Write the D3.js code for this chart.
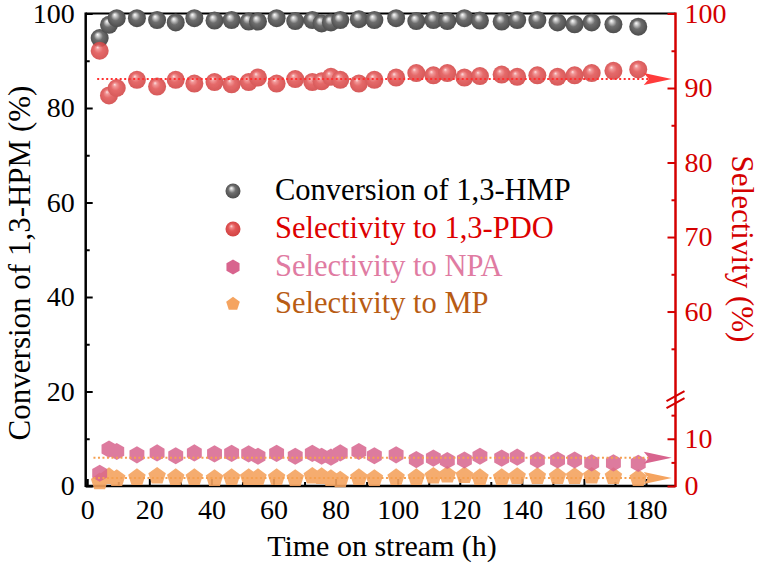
<!DOCTYPE html>
<html><head><meta charset="utf-8">
<script src="https://cdn.jsdelivr.net/npm/d3@7"></script>
<style>
body{margin:0;background:#fff}
svg{display:block}
text{font-family:"Liberation Serif","Times New Roman",serif}
</style>
</head><body>
<svg id="c" width="761" height="568"></svg>
<script>
// ---------- data ----------
const times = [4, 7, 9.5, 16, 22.5, 28.5, 34.5, 41, 46.5, 52, 55, 61, 67, 72.5, 75.5, 78.5, 81.5, 87.5, 92.5, 99.5,
  106, 111.5, 116, 121.5, 126.5, 133.5, 138.5, 145, 151.5, 157, 162.5, 169.5, 177.5];
const conversion = [94.8, 97.6, 99.0, 99.0, 98.6, 98.1, 99.0, 98.5, 98.6, 98.3, 98.3, 99.0, 98.4, 98.6, 97.9, 98.1, 98.6, 98.8, 98.6, 99.0,
  98.4, 98.6, 98.4, 99.0, 98.5, 98.3, 98.6, 98.6, 98.1, 97.7, 98.1, 97.7, 97.2];
const selPDO = [95.0, 89.0, 90.0, 91.1, 90.2, 91.1, 90.6, 90.8, 90.5, 90.8, 91.4, 90.6, 91.2, 90.8, 90.9, 91.5, 91.1, 90.6, 91.1, 91.4,
  92.0, 91.7, 92.0, 91.4, 91.6, 91.8, 91.5, 91.7, 91.5, 91.7, 92.0, 92.3, 92.5];
const selNPA = [2.7, 7.8, 7.3, 6.6, 7.0, 6.4, 7.0, 6.8, 6.9, 6.8, 6.3, 6.9, 6.3, 6.9, 6.3, 6.1, 7.0, 7.3, 6.4, 6.6,
  5.6, 5.9, 5.4, 5.5, 6.3, 5.9, 6.1, 5.5, 5.5, 5.5, 4.9, 4.9, 4.8];
const selMP = [0.9, 2.0, 1.6, 1.8, 2.1, 1.8, 1.8, 1.6, 1.8, 1.8, 1.8, 1.8, 1.6, 2.1, 2.0, 1.6, 1.3, 1.8, 1.6, 1.8,
  1.8, 2.1, 2.3, 2.2, 1.8, 1.8, 2.0, 2.0, 2.0, 2.0, 2.1, 2.0, 1.6];
const trendPDO = 91.2, trendNPA = 6.0, trendMP = 1.7;
const trendStart = [3.2, 2.0, 2.0];
const trendEnd = 188.3;

const xTicks = [0, 20, 40, 60, 80, 100, 120, 140, 160, 180];
const xMinor = [10, 30, 50, 70, 90, 110, 130, 150, 170];
const leftTicks = [0, 20, 40, 60, 80, 100];
const leftMinor = [10, 30, 50, 70, 90];
const rightUpperTicks = [60, 70, 80, 90, 100];
const rightUpperMinor = [55, 65, 75, 85, 95];
const rightLowerTicks = [0, 10];
const rightLowerMinor = [5, 15];
const legendLabels = ["Conversion of 1,3-HMP", "Selectivity to 1,3-PDO", "Selectivity to NPA", "Selectivity to MP"];
const xTitle = "Time on stream (h)";
const yTitleLeft = "Conversion of 1,3-HPM (%)";
const yTitleRight = "Selectivity (%)";

// ---------- setup ----------
const svg = d3.select("#c");
const L = 85.7, R = 675.5, T = 13.5, B = 486;
const x = d3.scaleLinear([-0.5, 189.5], [L, R]);
const yL = d3.scaleLinear([0, 100], [B, T]);
const yRU = d3.scaleLinear([49, 100], [393.5, T]);
const yRL = d3.scaleLinear([0, 17], [B, 405.7]);
const RED = "#d40000";

const defs = svg.append("defs");
function sphereGrad(id, stops) {
  const g = defs.append("radialGradient").attr("id", id)
    .attr("cx", "50%").attr("cy", "50%").attr("r", "55%").attr("fx", "38%").attr("fy", "30%");
  stops.forEach(s => g.append("stop").attr("offset", s[0]).attr("stop-color", s[1]));
}
sphereGrad("gGray", [["0%", "#ffffff"], ["18%", "#c8c8c8"], ["45%", "#6e6e6e"], ["100%", "#484848"]]);
sphereGrad("gRed", [["0%", "#ffe0e0"], ["18%", "#f08a8a"], ["45%", "#e25656"], ["100%", "#cf4040"]]);

function polyPath(r, n) {
  return d3.range(n).map(k => {
    const a = -Math.PI / 2 + k * 2 * Math.PI / n;
    return [r * Math.cos(a), r * Math.sin(a)];
  });
}
const hexPts = polyPath(8.6, 6), pentPts = polyPath(9.2, 5);
const ptsStr = (p, s) => p.map(d => (d[0] * s).toFixed(2) + "," + (d[1] * s).toFixed(2)).join(" ");

// ---------- frame ----------
svg.append("line").attr("x1", L).attr("x2", R).attr("y1", T).attr("y2", T).attr("stroke", "#000").attr("stroke-width", 2);

// ---------- axes ----------
function styleAxis(g, color) {
  g.select(".domain").remove();
  g.selectAll("line").attr("stroke", color).attr("stroke-width", 2);
  g.selectAll("text").attr("fill", color).style("font-size", "28px").style("font-family", '"Liberation Serif","Times New Roman",serif');
}
// bottom
svg.append("g").attr("transform", `translate(0,${B})`)
  .call(d3.axisBottom(x).tickValues(xTicks).tickSizeInner(-7).tickSizeOuter(0).tickPadding(13).tickFormat(d3.format("d")))
  .call(g => styleAxis(g, "#000"));
svg.append("g").attr("transform", `translate(0,${B})`)
  .call(d3.axisBottom(x).tickValues(xMinor).tickSizeInner(-4).tickSizeOuter(0).tickFormat(""))
  .call(g => styleAxis(g, "#000"));
svg.append("line").attr("x1", L).attr("x2", R).attr("y1", B).attr("y2", B).attr("stroke", "#000").attr("stroke-width", 2.5);
// left
svg.append("g").attr("transform", `translate(${L},0)`)
  .call(d3.axisLeft(yL).tickValues(leftTicks).tickSizeInner(-7).tickSizeOuter(0).tickPadding(11))
  .call(g => styleAxis(g, "#000"));
svg.append("g").attr("transform", `translate(${L},0)`)
  .call(d3.axisLeft(yL).tickValues(leftMinor).tickSizeInner(-4).tickSizeOuter(0).tickFormat(""))
  .call(g => styleAxis(g, "#000"));
svg.append("line").attr("x1", L).attr("x2", L).attr("y1", T - 1).attr("y2", B + 1).attr("stroke", "#000").attr("stroke-width", 2.5);
// right (broken)
[[yRU, rightUpperTicks, rightUpperMinor], [yRL, rightLowerTicks, rightLowerMinor]].forEach(([sc, maj, mn]) => {
  svg.append("g").attr("transform", `translate(${R},0)`)
    .call(d3.axisRight(sc).tickValues(maj).tickSizeInner(-8).tickSizeOuter(0).tickPadding(9))
    .call(g => styleAxis(g, RED));
  svg.append("g").attr("transform", `translate(${R},0)`)
    .call(d3.axisRight(sc).tickValues(mn).tickSizeInner(-4).tickSizeOuter(0).tickFormat(""))
    .call(g => styleAxis(g, RED));
});
svg.append("line").attr("x1", R).attr("x2", R).attr("y1", T - 1).attr("y2", B + 1).attr("stroke", RED).attr("stroke-width", 2.5);
// break marks
const brk = (yRU.range()[0] + yRL.range()[1]) / 2;
[-3.5, 3.5].forEach(o => {
  svg.append("line").attr("x1", R - 9).attr("x2", R + 9).attr("y1", brk + o + 5).attr("y2", brk + o - 5)
    .attr("stroke", RED).attr("stroke-width", 2);
});

// ---------- trend lines with arrows ----------
function trend(yv, sc, t0, lineColor, headColor) {
  const yy = sc(yv);
  const tip = x(trendEnd);
  svg.append("line").attr("x1", x(t0)).attr("x2", tip - 20).attr("y1", yy).attr("y2", yy)
    .attr("stroke", lineColor).attr("stroke-width", 2).attr("stroke-dasharray", "2,2.5");
  svg.append("path")
    .attr("d", `M${tip},${yy} L${tip - 28},${yy - 6} L${tip - 23},${yy} L${tip - 28},${yy + 6} Z`)
    .attr("fill", headColor);
}

// ---------- points ----------
const gConv = svg.append("g");
gConv.selectAll("circle").data(times).join("circle")
  .attr("cx", d => x(d)).attr("cy", (d, i) => yL(conversion[i])).attr("r", 9)
  .attr("fill", "url(#gGray)");
const gPDO = svg.append("g").attr("opacity", 0.88);
gPDO.selectAll("circle").data(times).join("circle")
  .attr("cx", d => x(d)).attr("cy", (d, i) => yRU(selPDO[i])).attr("r", 9)
  .attr("fill", "url(#gRed)");
trend(trendPDO, yRU, trendStart[0], "#ff3030", "#ff3b3b");

const gMP = svg.append("g").attr("opacity", 0.9);
gMP.selectAll("polygon").data(times).join("polygon")
  .attr("transform", (d, i) => `translate(${x(d)},${yRL(selMP[i])})`)
  .attr("points", ptsStr(pentPts, 1)).attr("fill", "#f5a460");
const gNPA = svg.append("g").attr("opacity", 0.85);
gNPA.selectAll("polygon").data(times).join("polygon")
  .attr("transform", (d, i) => `translate(${x(d)},${yRL(selNPA[i])})`)
  .attr("points", ptsStr(hexPts, 1)).attr("fill", "#d8648e");
trend(trendNPA, yRL, trendStart[1], "#f5a050", "#d8648e");
trend(trendMP, yRL, trendStart[2], "#f5a050", "#f5a460");

// ---------- legend ----------
const legColors = ["#000000", "#dd0000", "#e07ba2", "#b85c14"];
const legY = [191, 229, 267, 304];
const lg = svg.append("g");
lg.append("circle").attr("cx", 233).attr("cy", legY[0]).attr("r", 7.5).attr("fill", "url(#gGray)");
lg.append("circle").attr("cx", 233).attr("cy", legY[1]).attr("r", 7.5).attr("fill", "url(#gRed)");
lg.append("polygon").attr("transform", `translate(233,${legY[2]})`).attr("points", ptsStr(hexPts, 0.88)).attr("fill", "#d8648e");
lg.append("polygon").attr("transform", `translate(233,${legY[3]})`).attr("points", ptsStr(pentPts, 0.78)).attr("fill", "#f5a460");
lg.selectAll("text").data(legendLabels).join("text")
  .attr("x", 275).attr("y", (d, i) => legY[i] + 8.5)
  .attr("fill", (d, i) => legColors[i]).style("font-size", "30.5px").text(d => d);

// ---------- titles ----------
svg.append("text").attr("x", 382).attr("y", 556).attr("text-anchor", "middle")
  .style("font-size", "30px").attr("fill", "#000").text(xTitle);
svg.append("text").attr("transform", "translate(30,263) rotate(-90)").attr("text-anchor", "middle")
  .style("font-size", "31px").attr("fill", "#000").text(yTitleLeft);
svg.append("text").attr("transform", "translate(732,249) rotate(90)").attr("text-anchor", "middle")
  .style("font-size", "31px").attr("fill", RED).text(yTitleRight);
</script>
</body></html>
